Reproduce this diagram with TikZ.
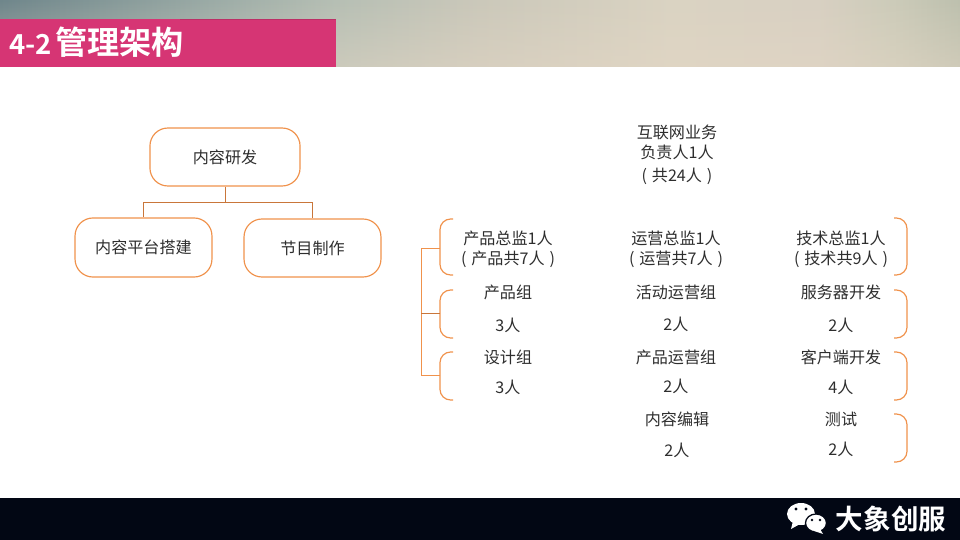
\documentclass[tikz,border=0pt]{standalone}
\usepackage{fontspec}
\usepackage{xcolor}
\usetikzlibrary{positioning,fadings}
\setmainfont{Noto Sans CJK SC}
\newfontfamily\cjkbold[BoldFont={Noto Sans CJK SC Bold}]{Noto Sans CJK SC}

\definecolor{pinkbar}{HTML}{D63574}
\definecolor{nightbar}{HTML}{020714}
\definecolor{boxline}{HTML}{F0924C}
\definecolor{linkline}{HTML}{C9763A}
\definecolor{bodytext}{HTML}{2E2E2E}
\definecolor{skya}{HTML}{6F868B}
\definecolor{skyb}{HTML}{9BABA6}
\definecolor{skyc}{HTML}{B6BFB4}
\definecolor{skyd}{HTML}{CBC8BA}
\definecolor{skye}{HTML}{DAD3C2}
\definecolor{skyf}{HTML}{D8D0C2}
\definecolor{skyg}{HTML}{CCCBB9}
\definecolor{skyh}{HTML}{BDC0AE}
\definecolor{sand}{HTML}{E6D8C6}

\pgfdeclarehorizontalshading{skyband}{100bp}{
  color(0bp)=(skya); color(25bp)=(skya); color(36bp)=(skyb); color(42.5bp)=(skyc);
  color(50bp)=(skyd); color(60bp)=(skye); color(67.5bp)=(skyf);
  color(71.5bp)=(skyg); color(75bp)=(skyh); color(100bp)=(skyh)}

\tikzset{
  unitbox/.style={draw=boxline, line width=0.55pt, rounded corners=8.5, fill=white, text=bodytext, font=\fontsize{7.6pt}{9pt}\selectfont, inner sep=0pt},
  staff/.style={text=bodytext, font=\fontsize{7.6pt}{9pt}\selectfont, inner sep=0pt},
  link/.style={draw=linkline, line width=0.45pt},
  brace/.style={draw=boxline, line width=0.55pt, rounded corners=5}
}

\begin{document}
\begin{tikzpicture}[x=0.4724pt,y=-0.4724pt]
      \useasboundingbox (0,0) rectangle (960,540);
      \fill[white] (0,0) rectangle (960,540);

      % bands
      \shade[shading=skyband] (0,0) rectangle (960,67);
      \fill[sand, path fading=north, opacity=0.45] (0,0) rectangle (960,67);
      \fill[pinkbar] (0,19) rectangle (336,67);
      \draw[pinkbar!88!black, line width=0.4pt] (180,19.5) -- (336,19.5);
      \fill[nightbar] (0,498) rectangle (960,540);
      \node[text=white, font=\fontsize{15.2pt}{16pt}\cjkbold\bfseries, anchor=west, inner sep=0pt] (title) at (9,42) {{\fontsize{13pt}{16pt}\selectfont 4-2}\hspace{1.5pt}管理架构};

      % left tree
      \node[unitbox, minimum width=70.9pt, minimum height=27.4pt] (research) at (225,157) {内容研发};
      \node[unitbox, minimum width=64.7pt, minimum height=27.9pt] (platform) at (143.5,247.5) {内容平台搭建};
      \node[unitbox, minimum width=64.7pt, minimum height=27.4pt] (program) at (312.5,248) {节目制作};
      \coordinate (fork) at (225,202);
      \draw[link] (research.south) -- (fork);
      \draw[link] (platform.north) |- (fork);
      \draw[link] (program.north) |- (fork);

      % head
      \node[staff] (heada) at (677,132) {互联网业务};
      \node[staff] (headb) at (677,152) {负责人1人};
      \node[staff] (headc) at (677,176) {(\hspace{0.6pt} 共24人 \hspace{0.6pt})};

      % product column
      \node[staff] (proda) at (508,238) {产品总监1人};
      \node[staff] (prodb) at (508,259) {(\hspace{0.6pt} 产品共7人 \hspace{0.6pt})};
      \node[staff] (prodc) at (508,292) {产品组};
      \node[staff] (prodd) at (508,325) {3人};
      \node[staff] (prode) at (508,357) {设计组};
      \node[staff] (prodf) at (508,387) {3人};

      % operations column
      \node[staff] (opera) at (676,238) {运营总监1人};
      \node[staff] (operb) at (676,259) {(\hspace{0.6pt} 运营共7人 \hspace{0.6pt})};
      \node[staff] (operc) at (676,292) {活动运营组};
      \node[staff] (operd) at (676,324) {2人};
      \node[staff] (opere) at (676,357) {产品运营组};
      \node[staff] (operf) at (676,386) {2人};
      \node[staff] (operg) at (677,419) {内容编辑};
      \node[staff] (operh) at (677,450) {2人};

      % tech column
      \node[staff] (techa) at (841,238) {技术总监1人};
      \node[staff] (techb) at (841,259) {(\hspace{0.6pt} 技术共9人 \hspace{0.6pt})};
      \node[staff] (techc) at (841,292) {服务器开发};
      \node[staff] (techd) at (841,325) {2人};
      \node[staff] (teche) at (841,357) {客户端开发};
      \node[staff] (techf) at (841,387) {4人};
      \node[staff] (techg) at (841,419) {测试};
      \node[staff] (techh) at (841,449) {2人};

      % brackets on the left
      \draw[brace] (453,219) -- (440,219) -- (440,275) -- (453,275);
      \draw[brace] (453,290) -- (440,290) -- (440,338) -- (453,338);
      \draw[brace] (453,352) -- (440,352) -- (440,400) -- (453,400);
      \coordinate (braceA) at (440,248);
      \coordinate (braceB) at (440,313);
      \coordinate (braceC) at (440,375);
      \coordinate (spine) at (421,313);
      \draw[link, draw=boxline] (braceA) -| (spine);
      \draw[link, draw=boxline] (braceC) -| (spine);
      \draw[link] (braceB) -- (spine);

      % brackets on the right
      \draw[brace] (894,218) -- (907,218) -- (907,275) -- (894,275);
      \draw[brace] (894,290) -- (907,290) -- (907,338) -- (894,338);
      \draw[brace] (894,352) -- (907,352) -- (907,400) -- (894,400);
      \draw[brace] (894,414) -- (907,414) -- (907,462) -- (894,462);

      % logo
      \fill[white] (801,514) ellipse (14 and 11);
      \fill[white] (793,521) -- (791,529) -- (800,524) -- cycle;
      \filldraw[fill=white, draw=nightbar, line width=0.6pt] (816,523) ellipse (10.5 and 9);
      \fill[white] (820,529) -- (823,534) -- (814,531) -- cycle;
      \fill[nightbar] (796,509) circle (1.7) (806,509) circle (1.7) (812,520) circle (1.4) (820,520) circle (1.4);
      \node[text=white, font=\fontsize{13pt}{14pt}\cjkbold\bfseries, inner sep=0pt] (brand) at (891,519) {大象创服};
    \end{tikzpicture}
\end{document}
